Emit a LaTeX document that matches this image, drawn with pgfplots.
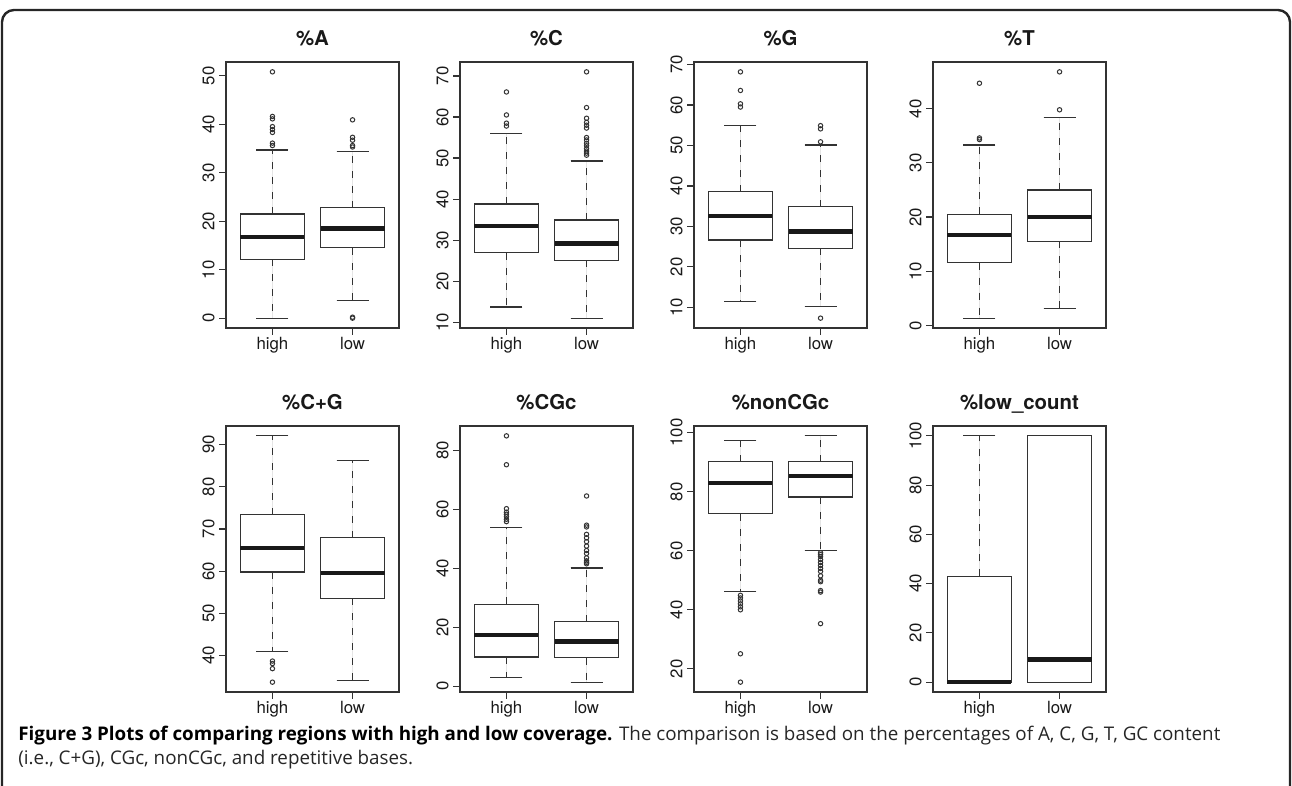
\documentclass[border=0pt]{standalone}
\usepackage{fontspec}
\setmainfont{TeX Gyre Heros}
\newfontfamily\capfont{Open Sans}
\usepackage{pgfplots}
\pgfplotsset{compat=1.18}
\usepgfplotslibrary{statistics}

% one px of the reference = 0.5pt
\pgfplotsset{
  rpanel/.style={
    scale only axis, width=86.5pt, height=133pt, anchor=north west,
    xmin=0.42, xmax=2.58, xtick={1,2}, xticklabels={high,low},
    tick align=outside, tick pos=left, major tick length=3.5pt,
    axis line style={black!80, line width=0.6pt},
    every tick/.style={black!80, line width=0.6pt},
    /pgf/number format/assume math mode=true,
    tick label style={font=\fontsize{8.4}{10}\selectfont, black!90},
    yticklabel style={rotate=90, anchor=south, inner sep=2pt},
    xticklabel style={inner sep=1pt},
    every axis title/.style={font=\bfseries\fontsize{10.2}{12}\selectfont, black!90,
      at={(0.5,1)}, anchor=base, yshift=8.4pt},
    boxplot/draw direction=y,
    boxplot/box extend=0.8,
    boxplot/whisker extend=0.4,
    boxplot/draw/lower whisker/.code={
      \draw[black!80, line width=0.6pt, dash pattern=on 3.5pt off 4pt]
        (boxplot box cs:\pgfplotsboxplotvalue{lower quartile},0.5) --
        (boxplot box cs:\pgfplotsboxplotvalue{lower whisker},0.5);
      \draw[black!80, line width=0.6pt]
        (boxplot whisker cs:\pgfplotsboxplotvalue{lower whisker},0) --
        (boxplot whisker cs:\pgfplotsboxplotvalue{lower whisker},1);
    },
    boxplot/draw/upper whisker/.code={
      \draw[black!80, line width=0.6pt, dash pattern=on 3.5pt off 4pt]
        (boxplot box cs:\pgfplotsboxplotvalue{upper quartile},0.5) --
        (boxplot box cs:\pgfplotsboxplotvalue{upper whisker},0.5);
      \draw[black!80, line width=0.6pt]
        (boxplot whisker cs:\pgfplotsboxplotvalue{upper whisker},0) --
        (boxplot whisker cs:\pgfplotsboxplotvalue{upper whisker},1);
    },
  },
  rb/.style={black!80, line width=0.6pt, fill=white, solid,
    mark=o, mark size=1.1pt, mark options={line width=0.5pt},
    boxplot/every median/.style={black!90, line width=2.3pt}},
}

% draw position, lower whisker, Q1, median, Q3, upper whisker, outliers
\newcommand{\rbox}[7]{%
  \addplot[rb, boxplot prepared={draw position=#1, lower whisker=#2,
    lower quartile=#3, median=#4, upper quartile=#5, upper whisker=#6}]
    coordinates {#7};}

\begin{document}
\begin{tikzpicture}
\path[use as bounding box] (0,0) rectangle (646pt,-393pt);
\draw[black!85, line width=1.2pt, rounded corners=6pt] (1pt,-5pt) rectangle (645pt,-400pt);

% ---- row 1
\begin{axis}[rpanel, at={(113pt,-31pt)}, title={\%A},
  ymin=-2.03, ymax=52.83, ytick={0,10,...,50}]
\rbox{1}{0}{12.1}{16.7}{21.5}{34.7}{(0,35.6) (0,36.1) (0,38.3) (0,38.9) (0,39.5) (0,41.1) (0,41.6) (0,50.8)}
\rbox{2}{3.6}{14.5}{18.5}{22.8}{34.3}{(0,0) (0,0.2) (0,35.3) (0,35.6) (0,36.7) (0,37.3) (0,40.9)}
\end{axis}

\begin{axis}[rpanel, at={(230pt,-31pt)}, title={\%C},
  ymin=8.6, ymax=73.4, ytick={10,20,...,70}]
\rbox{1}{13.7}{26.9}{33.4}{38.8}{55.9}{(0,57.8) (0,58.5) (0,60.5) (0,66.1)}
\rbox{2}{11.0}{25.1}{29.2}{34.9}{49.3}{(0,50.7) (0,51.2) (0,51.7) (0,52.3) (0,53.0) (0,53.6) (0,54.4) (0,55.0) (0,57.3) (0,58.0) (0,58.7) (0,59.7) (0,62.3) (0,71.0)}
\end{axis}

\begin{axis}[rpanel, at={(347pt,-31pt)}, title={\%G},
  ymin=4.86, ymax=70.64, ytick={10,20,...,70}]
\rbox{1}{11.5}{26.6}{32.6}{38.6}{55.0}{(0,59.5) (0,60.3) (0,63.6) (0,68.2)}
\rbox{2}{10.2}{24.6}{28.7}{34.9}{50.1}{(0,7.3) (0,50.9) (0,54.1) (0,54.9)}
\end{axis}

\begin{axis}[rpanel, at={(466.5pt,-31pt)}, title={\%T},
  ymin=-0.47, ymax=48.62, ytick={0,10,...,40}]
\rbox{1}{1.35}{11.6}{16.7}{20.5}{33.3}{(0,34.3) (0,34.6) (0,44.7)}
\rbox{2}{3.1}{15.5}{20.0}{25.0}{38.4}{(0,39.8) (0,46.8)}
\end{axis}

% ---- row 2
\begin{axis}[rpanel, at={(113pt,-213pt)}, title={\%C+G},
  ymin=31.37, ymax=94.38, ytick={40,50,...,90}]
\rbox{1}{40.9}{59.8}{65.5}{73.4}{92.05}{(0,33.7) (0,36.9) (0,38.1) (0,38.7)}
\rbox{2}{34.1}{53.6}{59.6}{67.9}{86.2}{}
\end{axis}

\begin{axis}[rpanel, at={(230pt,-213pt)}, title={\%CGc},
  ymin=-1.99, ymax=88.24, ytick={0,20,...,80}]
\rbox{1}{3.05}{9.9}{17.4}{27.7}{53.9}{(0,55.8) (0,56.6) (0,57.5) (0,58.3) (0,59.0) (0,60.2) (0,75.1) (0,84.9)}
\rbox{2}{1.35}{9.7}{15.1}{21.9}{40.1}{(0,41.5) (0,42.0) (0,42.5) (0,43.5) (0,45.0) (0,46.0) (0,47.5) (0,49.0) (0,50.3) (0,51.5) (0,54.0) (0,54.6) (0,64.5)}
\end{axis}

\begin{axis}[rpanel, at={(347pt,-213pt)}, title={\%nonCGc},
  ymin=12.16, ymax=102.24, ytick={20,40,...,100}]
\rbox{1}{46.3}{72.5}{82.9}{90.1}{97.2}{(0,15.5) (0,25.1) (0,40.0) (0,41.0) (0,42.0) (0,43.0) (0,44.0) (0,44.9)}
\rbox{2}{60.2}{78.2}{85.3}{90.2}{98.9}{(0,35.3) (0,46.0) (0,46.5) (0,49.5) (0,50.0) (0,51.5) (0,53.0) (0,54.0) (0,55.0) (0,56.0) (0,57.0) (0,58.0) (0,58.7) (0,59.3)}
\end{axis}

\begin{axis}[rpanel, at={(466.5pt,-213pt)}, title={\%low\_count},
  ymin=-4, ymax=104, ytick={0,20,...,100}]
\rbox{1}{0}{0}{0}{42.9}{100}{}
\rbox{2}{0}{0}{9.2}{100}{100}{}
\end{axis}

% ---- caption
\node[anchor=base west, inner sep=0pt, black!85,
  font=\capfont\fontsize{9.4}{12}\selectfont] at (9pt,-370pt)
  {\textbf{\color{black}Figure 3 Plots of comparing regions with high and low coverage.} The comparison is based on the percentages of A, C, G, T, GC content};
\node[anchor=base west, inner sep=0pt, black!85,
  font=\capfont\fontsize{9.4}{12}\selectfont] at (9pt,-382pt)
  {(i.e., C+G), CGc, nonCGc, and repetitive bases.};
\end{tikzpicture}
\end{document}
